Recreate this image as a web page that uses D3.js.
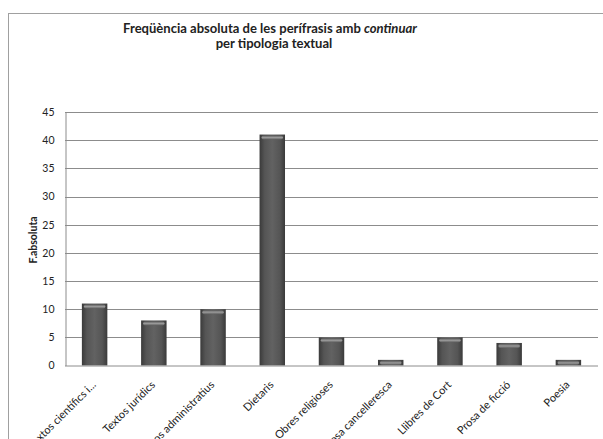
<!DOCTYPE html>
<html><head><meta charset="utf-8">
<script src="https://cdn.jsdelivr.net/npm/d3@7"></script>
<style>
html,body{margin:0;padding:0;background:#fff;overflow:hidden}
svg{display:block}
text{font-family:Lato,"Liberation Sans",Arial,sans-serif;fill:#222}
</style></head>
<body>
<script>
const categories = ["Textos científics i tècnics","Textos jurídics","Textos administratius","Dietaris","Obres religioses","Prosa cancelleresca","Llibres de Cort","Prosa de ficció","Poesia"];
const displayLabels = ["Textos científics i...","Textos jurídics","Textos administratius","Dietaris","Obres religioses","Prosa cancelleresca","Llibres de Cort","Prosa de ficció","Poesia"];
const values = [11, 8, 10, 41, 5, 1, 5, 4, 1];
const yTicks = [0,5,10,15,20,25,30,35,40,45];
const titleLine1 = "Freqüència absoluta de les perífrasis amb ";
const titleItalic = "continuar";
const titleLine2 = "per tipologia textual";
const yTitle = "F.absoluta";

const W = 603, H = 439;
const svg = d3.select("body").append("svg").attr("width", W).attr("height", H);

const defs = svg.append("defs");
const g1 = defs.append("linearGradient").attr("id","barGrad").attr("x1","0").attr("x2","1").attr("y1","0").attr("y2","0");
g1.append("stop").attr("offset","0%").attr("stop-color","#3a3a3a");
g1.append("stop").attr("offset","20%").attr("stop-color","#555");
g1.append("stop").attr("offset","50%").attr("stop-color","#626262");
g1.append("stop").attr("offset","80%").attr("stop-color","#555");
g1.append("stop").attr("offset","100%").attr("stop-color","#3a3a3a");
const g2 = defs.append("linearGradient").attr("id","hiGrad").attr("x1","0").attr("x2","0").attr("y1","0").attr("y2","1");
g2.append("stop").attr("offset","0%").attr("stop-color","#5a5a5a");
g2.append("stop").attr("offset","50%").attr("stop-color","#9a9a9a");
g2.append("stop").attr("offset","100%").attr("stop-color","#606060");

// outer frame
svg.append("rect").attr("x",8.5).attr("y",13.5).attr("width",W+20).attr("height",H+20)
  .attr("fill","none").attr("stroke","#a0a0a0").attr("stroke-width",1);

const pLeft = 65, pRight = 598, pTop = 112, pBottom = 365.5;
const x = d3.scaleBand().domain(categories).range([pLeft, pRight]).paddingInner(0.57).paddingOuter(0.285);
const y = d3.scaleLinear().domain([0,45]).range([pBottom, pTop]);

// gridlines
svg.append("g").selectAll("line").data(yTicks.filter(d=>d>0)).join("line")
  .attr("x1", pLeft).attr("x2", pRight)
  .attr("y1", d=>Math.round(y(d))+0.5).attr("y2", d=>Math.round(y(d))+0.5)
  .attr("stroke","#8c8c8c").attr("stroke-width",1);

// y axis
const yAxis = d3.axisLeft(y).tickValues(yTicks).tickSize(0).tickPadding(11);
const ya = svg.append("g").attr("transform",`translate(${pLeft+0.5},0)`).call(yAxis);
ya.select(".domain").attr("stroke","#8c8c8c");
ya.selectAll("text").attr("font-size","10.5px").style("fill","#222");

// bars
const bars = svg.append("g");
bars.selectAll("rect.bar").data(values).join("rect").attr("class","bar")
  .attr("x",(d,i)=>x(categories[i])).attr("width",x.bandwidth())
  .attr("y",d=>y(d)).attr("height",d=>pBottom-y(d))
  .attr("fill","url(#barGrad)");
bars.selectAll("rect.hi").data(values).join("rect").attr("class","hi")
  .attr("x",(d,i)=>x(categories[i])+2).attr("width",x.bandwidth()-4)
  .attr("y",d=>y(d)+1).attr("height",d=>Math.min(4, pBottom-y(d)-1))
  .attr("rx",2)
  .attr("fill","url(#hiGrad)");

// x axis
const xAxis = d3.axisBottom(x).tickSize(0).tickPadding(0).tickFormat((d,i)=>displayLabels[i]);
const xa = svg.append("g").attr("transform",`translate(0,${pBottom})`).call(xAxis);
xa.select(".domain").attr("stroke","#8c8c8c").attr("d",`M${pLeft},0.5H${pRight}`);
xa.selectAll("text").attr("font-size","11px").style("fill","#222")
  .attr("text-anchor","end").attr("dy",0).attr("y",0)
  .attr("transform","translate(2,20) rotate(-45)");

// y title
svg.append("text").attr("transform",`translate(37,240) rotate(-90)`)
  .attr("text-anchor","middle").attr("font-size","10.5px").attr("font-weight","bold").text(yTitle);

// title
const t1 = svg.append("text").attr("x",270).attr("y",33).attr("text-anchor","middle")
  .attr("font-size","13px").attr("font-weight","bold");
t1.append("tspan").text(titleLine1);
t1.append("tspan").attr("font-style","italic").text(titleItalic);
// fit the first title line to the reference width (~294px)
const w1 = t1.node().getComputedTextLength();
const fs = 13 * 294 / w1;
t1.attr("font-size", fs + "px");
svg.append("text").attr("x",274).attr("y",48).attr("text-anchor","middle")
  .attr("font-size", fs + "px").attr("font-weight","bold").text(titleLine2);
</script>
</body></html>
